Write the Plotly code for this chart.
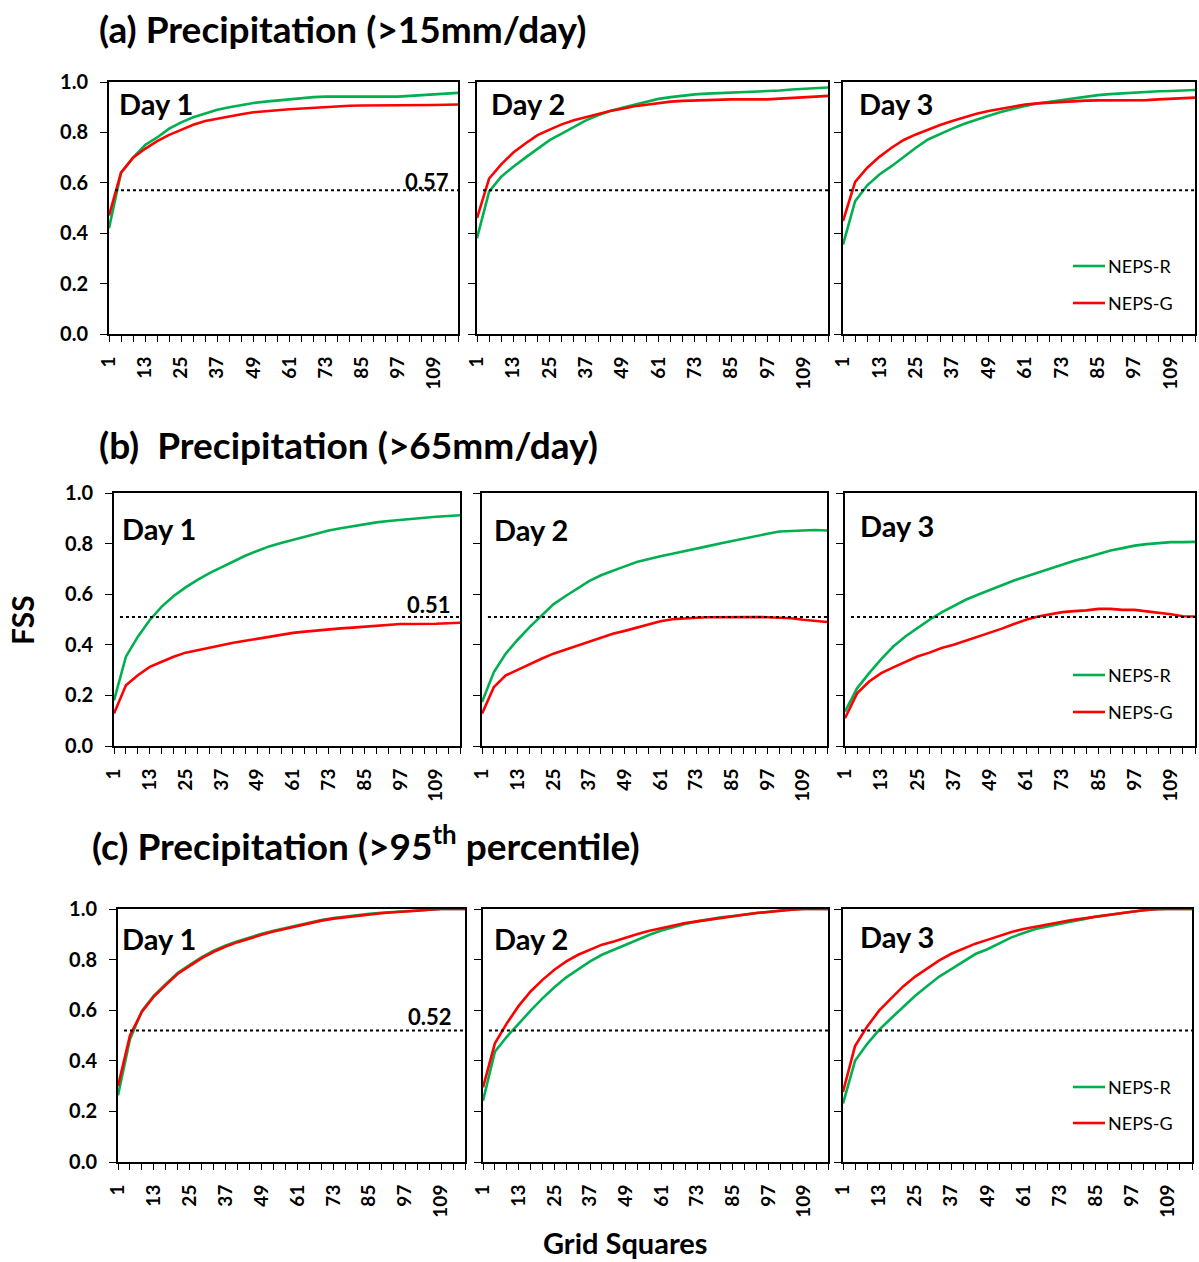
import plotly.graph_objects as go

# ---------------- data ----------------
GRID = list(range(1, 118, 4))          # 1,5,...,117 (30 points)
TICK_LABELS = [1, 13, 25, 37, 49, 61, 73, 85, 97, 109]
Y_TICKS = [0.0, 0.2, 0.4, 0.6, 0.8, 1.0]
DAYS = ["Day 1", "Day 2", "Day 3"]
SERIES = ["NEPS-R", "NEPS-G"]
THRESHOLDS = [0.57, 0.51, 0.52]
TITLES = ["(a) Precipitation (>15mm/day)",
          "(b)\u00a0 Precipitation (>65mm/day)",
          "(c) Precipitation (>95<sup>th</sup> percentile)"]

# (a) >15mm/day
A1_R = [0.42, 0.64, 0.70, 0.75, 0.78, 0.815, 0.84, 0.86, 0.875, 0.89, 0.90, 0.91, 0.917, 0.922, 0.927,
        0.932, 0.935, 0.94, 0.942, 0.942, 0.942, 0.942, 0.942, 0.942, 0.942, 0.945, 0.948, 0.951, 0.954, 0.957]
A1_G = [0.47, 0.64, 0.70, 0.735, 0.765, 0.79, 0.81, 0.83, 0.845, 0.855, 0.865, 0.872, 0.88, 0.885, 0.888,
        0.892, 0.895, 0.898, 0.90, 0.903, 0.906, 0.907, 0.907, 0.907, 0.907, 0.907, 0.907, 0.909, 0.91, 0.911]
A2_R = [0.38, 0.565, 0.624, 0.664, 0.70, 0.736, 0.769, 0.795, 0.822, 0.848, 0.868, 0.885, 0.898, 0.91, 0.92,
        0.933, 0.94, 0.947, 0.951, 0.954, 0.956, 0.959, 0.959, 0.961, 0.962, 0.966, 0.97, 0.972, 0.975, 0.978]
A2_G = [0.46, 0.617, 0.673, 0.72, 0.756, 0.789, 0.811, 0.832, 0.848, 0.861, 0.875, 0.885, 0.894, 0.904, 0.91,
        0.917, 0.922, 0.925, 0.927, 0.93, 0.931, 0.931, 0.931, 0.931, 0.931, 0.934, 0.936, 0.939, 0.942, 0.945]
A3_R = [0.355, 0.527, 0.59, 0.633, 0.666, 0.703, 0.739, 0.772, 0.795, 0.815, 0.834, 0.851, 0.866, 0.881, 0.894,
        0.905, 0.915, 0.922, 0.928, 0.936, 0.942, 0.948, 0.952, 0.955, 0.958, 0.96, 0.963, 0.964, 0.967, 0.968]
A3_G = [0.448, 0.604, 0.66, 0.703, 0.739, 0.77, 0.792, 0.812, 0.829, 0.845, 0.861, 0.874, 0.885, 0.894, 0.902,
        0.911, 0.915, 0.918, 0.922, 0.924, 0.926, 0.927, 0.927, 0.927, 0.927, 0.928, 0.931, 0.934, 0.936, 0.938]

# (b) >65mm/day
B1_R = [0.18, 0.353, 0.432, 0.498, 0.551, 0.593, 0.627, 0.657, 0.683, 0.707, 0.729, 0.752, 0.771, 0.789, 0.802,
        0.815, 0.828, 0.841, 0.852, 0.861, 0.869, 0.877, 0.884, 0.889, 0.894, 0.898, 0.904, 0.906, 0.909, 0.912]
B1_G = [0.128, 0.24, 0.28, 0.313, 0.333, 0.353, 0.369, 0.379, 0.39, 0.399, 0.408, 0.416, 0.424, 0.432, 0.44,
        0.447, 0.452, 0.457, 0.462, 0.465, 0.468, 0.472, 0.476, 0.48, 0.482, 0.482, 0.482, 0.483, 0.485, 0.487]
B2_R = [0.174, 0.292, 0.365, 0.42, 0.47, 0.516, 0.56, 0.592, 0.622, 0.652, 0.675, 0.694, 0.71, 0.727, 0.74,
        0.75, 0.76, 0.771, 0.78, 0.79, 0.80, 0.81, 0.822, 0.831, 0.839, 0.848, 0.85, 0.854, 0.854, 0.852]
B2_G = [0.128, 0.233, 0.279, 0.302, 0.325, 0.345, 0.365, 0.381, 0.397, 0.411, 0.428, 0.444, 0.455, 0.468, 0.481,
        0.493, 0.501, 0.505, 0.507, 0.509, 0.51, 0.511, 0.511, 0.51, 0.509, 0.506, 0.505, 0.499, 0.494, 0.49]
B3_R = [0.136, 0.228, 0.288, 0.343, 0.393, 0.433, 0.466, 0.499, 0.528, 0.554, 0.578, 0.598, 0.617, 0.636, 0.654,
        0.67, 0.686, 0.70, 0.716, 0.732, 0.745, 0.76, 0.773, 0.782, 0.792, 0.798, 0.802, 0.806, 0.806, 0.807]
B3_G = [0.11, 0.208, 0.255, 0.288, 0.311, 0.334, 0.354, 0.369, 0.387, 0.40, 0.416, 0.433, 0.446, 0.464, 0.482,
        0.499, 0.512, 0.522, 0.529, 0.533, 0.536, 0.542, 0.542, 0.538, 0.538, 0.532, 0.528, 0.521, 0.513, 0.512]

# (c) >95th percentile
C1_R = [0.264, 0.485, 0.597, 0.658, 0.704, 0.748, 0.779, 0.81, 0.835, 0.856, 0.873, 0.889, 0.902, 0.914, 0.925,
        0.936, 0.947, 0.956, 0.964, 0.97, 0.976, 0.981, 0.985, 0.988, 0.99, 0.994, 0.998, 1.0, 1.0, 1.0]
C1_G = [0.30, 0.50, 0.594, 0.654, 0.70, 0.744, 0.775, 0.806, 0.831, 0.852, 0.869, 0.885, 0.898, 0.911, 0.922,
        0.934, 0.945, 0.954, 0.962, 0.968, 0.974, 0.979, 0.983, 0.987, 0.989, 0.993, 0.997, 1.0, 1.0, 1.0]
C2_R = [0.242, 0.436, 0.495, 0.548, 0.598, 0.647, 0.691, 0.73, 0.762, 0.793, 0.819, 0.839, 0.861, 0.881, 0.898,
        0.915, 0.929, 0.941, 0.951, 0.96, 0.967, 0.972, 0.979, 0.984, 0.989, 0.995, 0.999, 1.0, 1.0, 1.0]
C2_G = [0.295, 0.469, 0.548, 0.617, 0.674, 0.72, 0.76, 0.793, 0.819, 0.839, 0.859, 0.872, 0.885, 0.901, 0.914,
        0.925, 0.935, 0.945, 0.951, 0.958, 0.964, 0.971, 0.978, 0.984, 0.988, 0.993, 0.997, 1.0, 1.0, 1.0]
C3_R = [0.231, 0.40, 0.466, 0.522, 0.568, 0.614, 0.657, 0.696, 0.733, 0.762, 0.793, 0.822, 0.841, 0.865, 0.888,
        0.905, 0.921, 0.931, 0.942, 0.951, 0.96, 0.97, 0.976, 0.984, 0.989, 0.995, 0.999, 1.0, 1.0, 1.0]
C3_G = [0.277, 0.458, 0.535, 0.598, 0.647, 0.694, 0.733, 0.766, 0.797, 0.823, 0.844, 0.863, 0.878, 0.894, 0.909,
        0.921, 0.931, 0.941, 0.948, 0.956, 0.963, 0.971, 0.976, 0.984, 0.989, 0.995, 0.999, 1.0, 1.0, 1.0]

PANELS = [[(A1_R, A1_G), (A2_R, A2_G), (A3_R, A3_G)],
          [(B1_R, B1_G), (B2_R, B2_G), (B3_R, B3_G)],
          [(C1_R, C1_G), (C2_R, C2_G), (C3_R, C3_G)]]

# ---------------- layout geometry (pixels) ----------------
W, H = 1199, 1262
FONT = "Lato"
GREEN, RED = "#00B050", "#FF0000"
COLORS = [GREEN, RED]
ROW_Y = [(82, 334), (493, 746), (909, 1162)]
COL_X = [[(109, 458), (477, 828), (843, 1195)],
         [(114, 460), (482, 827), (845, 1195)],
         [(118, 465), (483, 828), (843, 1192)]]
DAY_POS = [[(117, 103), (489, 103), (857, 103)],
           [(120, 528), (492, 529), (858, 526)],
           [(120, 938), (492, 939), (858, 936)]]
THR_LABEL_POS = [(427, 181), (429, 605), (430, 1016)]
LEG_POS = [(266, 303), (675, 712), (1087, 1123)]
TITLE_POS = [(97, 28), (97, 444), (90, 843)]


def px(x):
    return x / W


def py(y):
    return 1 - y / H


fig = go.Figure()
layout = dict(width=W, height=H, margin=dict(l=0, r=0, t=0, b=0, autoexpand=False),
              paper_bgcolor="white", plot_bgcolor="white", showlegend=False,
              font=dict(family=FONT, color="black"))
annotations, shapes = [], []

tick_text = [str(v) if v in TICK_LABELS else " " for v in GRID]

for r in range(3):
    for c in range(3):
        k = r * 3 + c + 1
        xa, ya = f"x{k}", f"y{k}"
        x0, x1 = COL_X[r][c]
        y0, y1 = ROW_Y[r]
        for s, vals in enumerate(PANELS[r][c]):
            fig.add_trace(go.Scatter(x=GRID, y=vals, mode="lines", name=SERIES[s],
                                     line=dict(color=COLORS[s], width=2.6),
                                     xaxis=xa, yaxis=ya, hoverinfo="skip"))
        layout[f"xaxis{k}"] = dict(domain=[px(x0), px(x1)], anchor=ya, range=[1, 117], automargin=False,
                                   tickvals=GRID, ticktext=tick_text, tickangle=-90,
                                   ticks="outside", ticklen=6, tickwidth=1.3, tickcolor="black",
                                   showline=True, linecolor="black", linewidth=2, mirror=True,
                                   showgrid=False, zeroline=False, ticklabelstandoff=7,
                                   tickfont=dict(family=FONT, size=19, weight="bold", color="black"))
        layout[f"yaxis{k}"] = dict(domain=[py(y1), py(y0)], anchor=xa, range=[0, 1], automargin=False,
                                   tickvals=Y_TICKS, ticktext=[f"{v:.1f}" for v in Y_TICKS],
                                   showticklabels=(c == 0),
                                   ticks="outside", ticklen=7, tickwidth=1.3, tickcolor="black",
                                   showline=True, linecolor="black", linewidth=2, mirror=True,
                                   showgrid=False, zeroline=False, ticklabelstandoff=8,
                                   tickfont=dict(family=FONT, size=20, weight="bold", color="black"))
        # threshold dotted line
        shapes.append(dict(type="line", xref=xa, yref=ya, x0=3, x1=117,
                           y0=THRESHOLDS[r], y1=THRESHOLDS[r],
                           line=dict(color="black", width=2, dash="dot")))
        # day label
        dx, dy = DAY_POS[r][c]
        annotations.append(dict(text=DAYS[c], xref="paper", yref="paper", x=px(dx), y=py(dy),
                                xanchor="left", yanchor="middle", showarrow=False,
                                font=dict(family=FONT, size=29, weight="bold", color="black")))
    # threshold value label (first column)
    tx, ty = THR_LABEL_POS[r]
    annotations.append(dict(text=f"{THRESHOLDS[r]:.2f}", xref="paper", yref="paper", x=px(tx), y=py(ty),
                            xanchor="center", yanchor="middle", showarrow=False,
                            font=dict(family=FONT, size=22, weight="bold", color="black")))
    # legend (third column)
    for s in range(2):
        ly = LEG_POS[r][s]
        shapes.append(dict(type="line", xref="paper", yref="paper", x0=px(1073), x1=px(1105),
                           y0=py(ly), y1=py(ly), line=dict(color=COLORS[s], width=2.6)))
        annotations.append(dict(text=SERIES[s], xref="paper", yref="paper", x=px(1106), y=py(ly),
                                xanchor="left", yanchor="middle", showarrow=False,
                                font=dict(family=FONT, size=18, color="black")))
    # row title
    tx, ty = TITLE_POS[r]
    annotations.append(dict(text=TITLES[r], xref="paper", yref="paper", x=px(tx), y=py(ty),
                            xanchor="left", yanchor="middle", showarrow=False,
                            font=dict(family=FONT, size=37, weight="bold", color="black")))

annotations.append(dict(text="FSS", xref="paper", yref="paper", x=px(22), y=py(620),
                        xanchor="center", yanchor="middle", showarrow=False, textangle=-90,
                        font=dict(family=FONT, size=30, weight="bold", color="black")))
annotations.append(dict(text="Grid Squares", xref="paper", yref="paper", x=px(625), y=py(1242),
                        xanchor="center", yanchor="middle", showarrow=False,
                        font=dict(family=FONT, size=29, weight="bold", color="black")))

layout["annotations"] = annotations
layout["shapes"] = shapes
fig.update_layout(**layout)
fig.write_html("out.html")
